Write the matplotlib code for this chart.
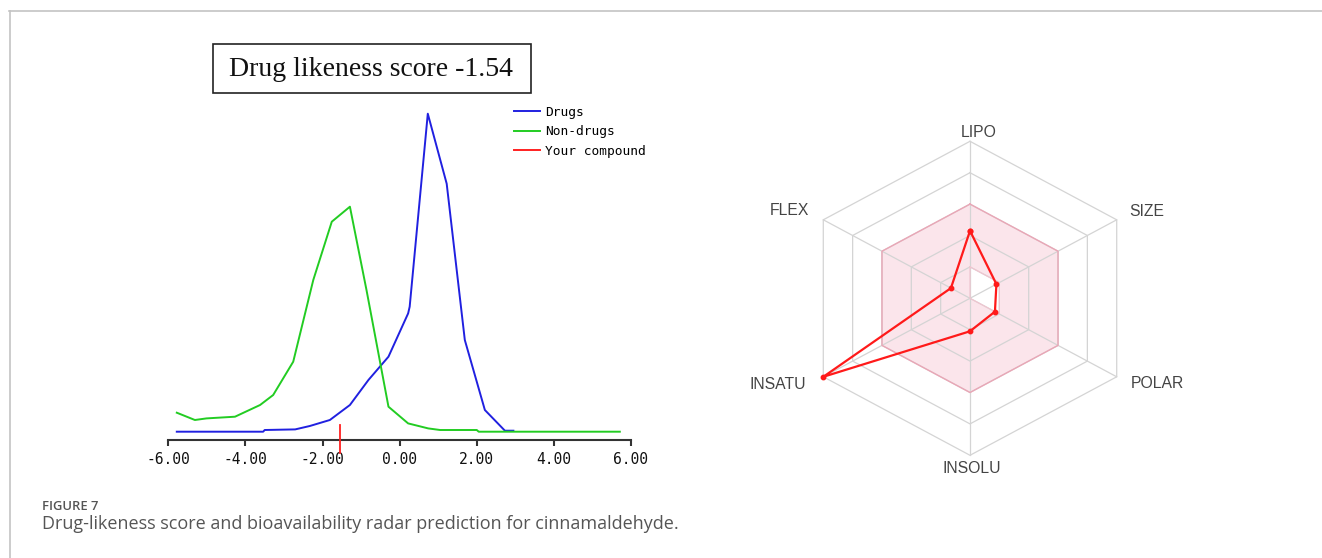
import numpy as np
import matplotlib
matplotlib.use("Agg")
import matplotlib.pyplot as plt
from matplotlib.patches import Rectangle, Polygon
from matplotlib.lines import Line2D

# ---------------- data ----------------
drugs_x = [-5.78, -3.54, -3.50, -2.71, -2.33, -1.81, -1.29, -0.81, -0.29, 0.22, 0.26, 0.73, 1.22, 1.69, 2.21, 2.73, 2.95]
drugs_y = [0.0, 0.0, 1.7, 2.3, 5.7, 11.7, 26.7, 51.7, 75.0, 118.3, 125.0, 318.0, 248.0, 91.7, 21.7, 1.0, 1.0]
nondrugs_x = [-5.78, -5.31, -5.01, -4.27, -3.62, -3.28, -2.76, -2.24, -1.76, -1.29, -0.86, -0.29, 0.22, 0.74, 1.05, 2.00, 2.05, 5.71]
nondrugs_y = [19.0, 11.7, 13.3, 15.0, 26.7, 36.7, 70.0, 151.7, 210.0, 225.0, 141.7, 25.0, 8.3, 3.3, 1.7, 1.7, 0.0, 0.0]
score = -1.54
x_ticks = [-6, -4, -2, 0, 2, 4, 6]

radar_labels = ["LIPO", "SIZE", "POLAR", "INSOLU", "INSATU", "FLEX"]
radar_angles_deg = [90, 30, -30, -90, 210, 150]
radar_values = [0.43, 0.18, 0.17, 0.21, 1.0, 0.13]
optimal_outer = [0.6, 0.6, 0.6, 0.6, 0.6, 0.6]
optimal_inner = [0.2, 0.2, 0.2, 0.0, 0.0, 0.0]
grid_levels = [0.2, 0.4, 0.6, 0.8, 1.0]

W, H = 1322, 558
fig = plt.figure(figsize=(W / 100, H / 100), dpi=100)
fig.patch.set_facecolor("white")


def fx(px):
    return px / W


def fy(py):
    return 1 - py / H


# frame lines
fig.add_artist(Line2D([fx(9), fx(W)], [fy(10.5), fy(10.5)], color="#c4c4c4", lw=1.2))
fig.add_artist(Line2D([fx(9.5), fx(9.5)], [fy(10.5), 0], color="#c4c4c4", lw=1.2))

# ---------------- left: drug-likeness ----------------
ax_l, ax_r, ax_b, ax_t = 168.3, 631.0, 440.0, 90.0
ax = fig.add_axes([fx(ax_l), fy(ax_b), fx(ax_r - ax_l), (ax_b - ax_t) / H])
ax.set_xlim(-6, 6)
ax.set_ylim(-8.3, (431.7 - ax_t))
ax.plot(drugs_x, drugs_y, color="#2020e0", lw=1.4, label="Drugs")
ax.plot(nondrugs_x, nondrugs_y, color="#22cc22", lw=1.4, label="Non-drugs")
ax.plot([score, score], [6.7, -21], color="#ff2020", lw=1.3, clip_on=False, zorder=5)
ax.plot([], [], color="#ff2020", lw=1.4, label="Your compound")
for s in ["left", "top", "right"]:
    ax.spines[s].set_visible(False)
ax.spines["bottom"].set_color("#333333")
ax.spines["bottom"].set_linewidth(1.5)
ax.set_yticks([])
ax.set_xticks(x_ticks)
ax.set_xticklabels([f"{t:.2f}" for t in x_ticks], family="DejaVu Sans Mono", fontsize=10.5, color="#111111")
ax.tick_params(axis="x", direction="out", length=4.5, width=1.5, color="#333333", pad=4)
ax.patch.set_alpha(0)

leg = ax.legend(loc="upper left", bbox_to_anchor=(fx(514), fy(106)), bbox_transform=fig.transFigure,
                frameon=False, prop={"family": "DejaVu Sans Mono", "size": 9.3},
                handlelength=2.0, handletextpad=0.4, labelspacing=0.5, borderpad=0, borderaxespad=0)

# title box
fig.add_artist(Rectangle((fx(213.3), fy(93.3)), fx(531 - 213.3), (93.3 - 44.3) / H,
                         fill=False, edgecolor="#222222", lw=1.2, transform=fig.transFigure))
fig.text(fx(371), fy(69), "Drug likeness score -1.54", family="Liberation Serif", fontsize=20,
         ha="center", va="center", color="#111111")

# ---------------- right: radar ----------------
cx, cy = 970.0, 298.3
rx, ry = 169.4, 157.0
half_w, half_h = 210.0, 185.0
axr = fig.add_axes([fx(cx - half_w), fy(cy + half_h), fx(2 * half_w), 2 * half_h / H])
axr.set_xlim(-half_w / rx, half_w / rx)
axr.set_ylim(-half_h / ry, half_h / ry)
axr.axis("off")

ang = np.deg2rad(radar_angles_deg)
cosa, sina = np.cos(ang), np.sin(ang)


def pts(vals):
    v = np.asarray(vals, dtype=float)
    return np.column_stack([v * cosa, v * sina])


axr.add_patch(Polygon(pts(optimal_outer), closed=True, facecolor="#fbe5eb", edgecolor="none", zorder=1))
axr.add_patch(Polygon(pts(optimal_inner), closed=True, facecolor="white", edgecolor="none", zorder=1.5))
for lv in grid_levels:
    p = pts([lv] * 6)
    p = np.vstack([p, p[:1]])
    axr.plot(p[:, 0], p[:, 1], color="#d4d4d4", lw=0.9, zorder=2)
for c, s in zip(cosa, sina):
    axr.plot([0, c], [0, s], color="#d4d4d4", lw=0.9, zorder=2)
po = pts(optimal_outer)
po = np.vstack([po, po[:1]])
axr.plot(po[:, 0], po[:, 1], color="#eaa6b6", lw=1.0, zorder=3)
pi = pts(optimal_inner)
pi = np.vstack([pi, pi[:1]])
axr.plot(pi[:, 0], pi[:, 1], color="#f1c4cf", lw=0.8, zorder=3)

pv = pts(radar_values)
pv = np.vstack([pv, pv[:1]])
axr.plot(pv[:, 0], pv[:, 1], color="#ff1a1a", lw=1.6, marker="o", markersize=3.2, zorder=4)

label_pos = {
    "LIPO": (0.053, 1.055),
    "SIZE": (1.045, 0.55),
    "POLAR": (1.107, -0.54),
    "INSOLU": (0.01, -1.081),
    "INSATU": (-1.133, -0.546),
    "FLEX": (-1.063, 0.562),
}
for lab in radar_labels:
    x, y = label_pos[lab]
    axr.text(x, y, lab, ha="center", va="center", family="Liberation Sans", fontsize=11.3, color="#444444")

# ---------------- caption ----------------
fig.text(fx(42), fy(507), "FIGURE 7", family="Open Sans", fontweight="semibold", fontsize=9.4,
         color="#555555", ha="left", va="center")
fig.text(fx(42), fy(524), "Drug-likeness score and bioavailability radar prediction for cinnamaldehyde.",
         family="Open Sans", fontsize=13, color="#555555", ha="left", va="center")

fig.savefig("out.png", dpi=100)
